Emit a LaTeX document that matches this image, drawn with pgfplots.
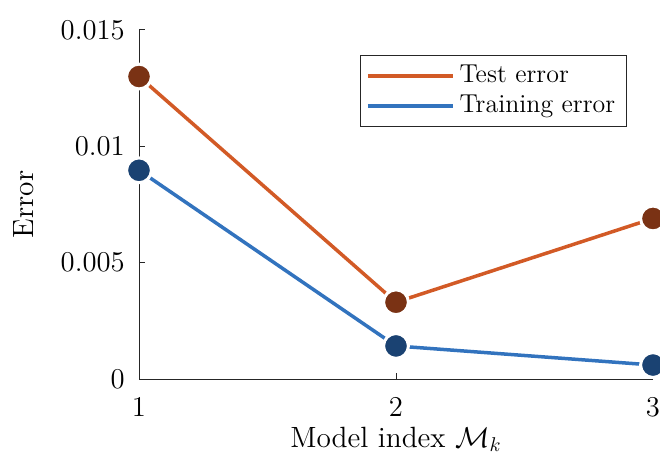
\documentclass[border=0pt]{standalone}
\usepackage{pgfplots}
\pgfplotsset{compat=1.18}
\definecolor{testline}{RGB}{210,90,38}
\definecolor{testmark}{RGB}{122,50,20}
\definecolor{trainline}{RGB}{50,115,190}
\definecolor{trainmark}{RGB}{26,66,114}
\definecolor{axcol}{RGB}{38,38,38}
\begin{document}
\fontsize{14}{17}\selectfont
\begin{tikzpicture}
\begin{axis}[
  scale only axis, width=257bp, height=174.5bp,
  xmin=1, xmax=3, ymin=0, ymax=0.015,
  axis x line*=bottom, axis y line*=left,
  xtick={1,2,3}, ytick={0,0.005,0.01,0.015},
  scaled y ticks=false,
  yticklabel style={/pgf/number format/fixed, /pgf/number format/precision=3, xshift=-2.3bp},
  xticklabel style={yshift=-4.5bp},
  tick align=inside, major tick length=3bp,
  axis line style={line width=0.5bp, color=axcol},
  tick style={line width=0.5bp, color=axcol},
  ticklabel style={font=\fontsize{14}{17}\selectfont},
  label style={font=\fontsize{14.7}{17.5}\selectfont},
  xlabel={Model index $\mathcal{M}_k$}, ylabel={Error},
  xlabel style={at={(axis description cs:0.5,0)}, anchor=base, yshift=-34bp},
  ylabel style={at={(axis description cs:0,0.5)}, anchor=center, yshift=57.5bp},
  legend style={at={(0.949,0.928)}, anchor=north east, draw=axcol, line width=0.5bp, font=\fontsize{13}{15.5}\selectfont, inner xsep=3bp, inner ysep=2.8bp, row sep=0bp, nodes={inner xsep=2.5bp}},
  legend cell align=left,
  legend image code/.code={\draw[#1, mark=none] (2.5bp,0bp) -- (45bp,0bp);},
]
\addplot[testline, line width=1.75bp, mark=*, mark size=6.2bp, mark options={fill=testmark, draw=white, line width=1.5bp}] coordinates {(1,0.0130)(2,0.0033)(3,0.0069)};
\addlegendentry{Test error}
\addplot[trainline, line width=1.75bp, mark=*, mark size=6.2bp, mark options={fill=trainmark, draw=white, line width=1.5bp}] coordinates {(1,0.00897)(2,0.00142)(3,0.0006)};
\addlegendentry{Training error}
\end{axis}
\pgfresetboundingbox
\path (current axis.south west) ++(-69.5bp,-40bp) coordinate (bl);
\path (current axis.north east) ++(3.5bp,15bp) coordinate (tr);
\path[use as bounding box] (bl) rectangle (tr);
\end{tikzpicture}
\end{document}
